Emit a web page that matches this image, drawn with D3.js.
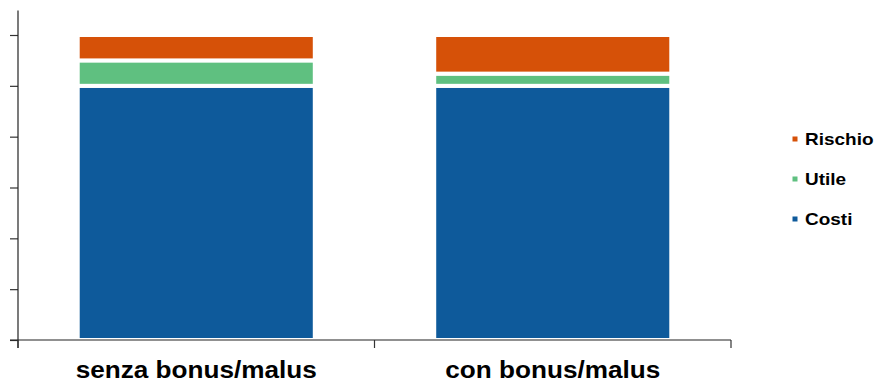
<!DOCTYPE html>
<html><head><meta charset="utf-8">
<script src="https://cdn.jsdelivr.net/npm/d3@7"></script>
<style>body{margin:0;background:#fff}svg{display:block}</style>
</head><body>
<svg id="c" width="877" height="381"></svg>
<script>
const categories = ["senza bonus/malus", "con bonus/malus"];
const seriesNames = ["Costi", "Utile", "Rischio"];
const costi = [5.0, 5.0];
const utile = [0.5, 0.24];
const rischio = [0.5, 0.76];
const yTicks = [0, 1, 2, 3, 4, 5, 6];
const colors = {Costi: "#0e5a9b", Utile: "#5fc080", Rischio: "#d65108"};

const svg = d3.select("#c");
const x0 = 18, x1 = 731, yBase = 340;
const x = d3.scaleBand().domain(categories).range([x0, x1]).padding(0);
const y = d3.scaleLinear().domain([0, 6]).range([yBase, 35]);

const rows = categories.map((c, i) => ({cat: c, Costi: costi[i], Utile: utile[i], Rischio: rischio[i]}));
const stack = d3.stack().keys(seriesNames)(rows);
const barW = x.bandwidth() * 0.665;

svg.append("g").selectAll("g").data(stack).join("g")
  .attr("fill", d => colors[d.key])
  .selectAll("rect").data(d => d).join("rect")
  .attr("x", d => x(d.data.cat) + (x.bandwidth() - barW) / 2)
  .attr("width", barW)
  .attr("y", d => y(d[1]))
  .attr("height", d => y(d[0]) - y(d[1]))
  .attr("stroke", "#fff").attr("stroke-width", 4);

// y axis
const yAxis = svg.append("g").attr("transform", `translate(${x0},0)`)
  .call(d3.axisLeft(y).tickValues(yTicks).tickSize(8).tickFormat(""));
yAxis.select(".domain").remove();
yAxis.selectAll(".tick line").attr("stroke", "#333").attr("stroke-width", 1.2);
svg.append("line").attr("x1", x0).attr("x2", x0).attr("y1", y(6.48)).attr("y2", yBase + 8)
  .attr("stroke", "#222").attr("stroke-width", 1.2);

// x axis
svg.append("line").attr("x1", 10).attr("x2", x1).attr("y1", yBase).attr("y2", yBase)
  .attr("stroke", "#222").attr("stroke-width", 1.2);
const bounds = categories.map(c => x(c)).concat([x1]);
svg.append("g").selectAll("line").data(bounds).join("line")
  .attr("x1", d => d).attr("x2", d => d).attr("y1", yBase).attr("y2", yBase + 8)
  .attr("stroke", "#333").attr("stroke-width", 1.2);

svg.append("g").selectAll("text").data(categories).join("text")
  .attr("transform", d => `translate(${x(d) + x.bandwidth() / 2},${377.5}) scale(1.09,1)`)
  .attr("text-anchor", "middle")
  .attr("font-family", "Liberation Sans, Arial, sans-serif")
  .attr("font-weight", "bold").attr("font-size", 24).attr("fill", "#000")
  .text(d => d);

// legend
const legendOrder = ["Rischio", "Utile", "Costi"];
const lg = svg.append("g").selectAll("g").data(legendOrder).join("g")
  .attr("transform", (d, i) => `translate(795,${139 + i * 40})`);
lg.append("rect").attr("x", -2.5).attr("y", -2.5).attr("width", 5).attr("height", 5)
  .attr("fill", d => colors[d]);
lg.append("text").attr("transform", "translate(10,6) scale(1.15,1)")
  .attr("font-family", "Liberation Sans, Arial, sans-serif")
  .attr("font-weight", "bold").attr("font-size", 16.5).attr("fill", "#000")
  .text(d => d);
</script>
</body></html>
